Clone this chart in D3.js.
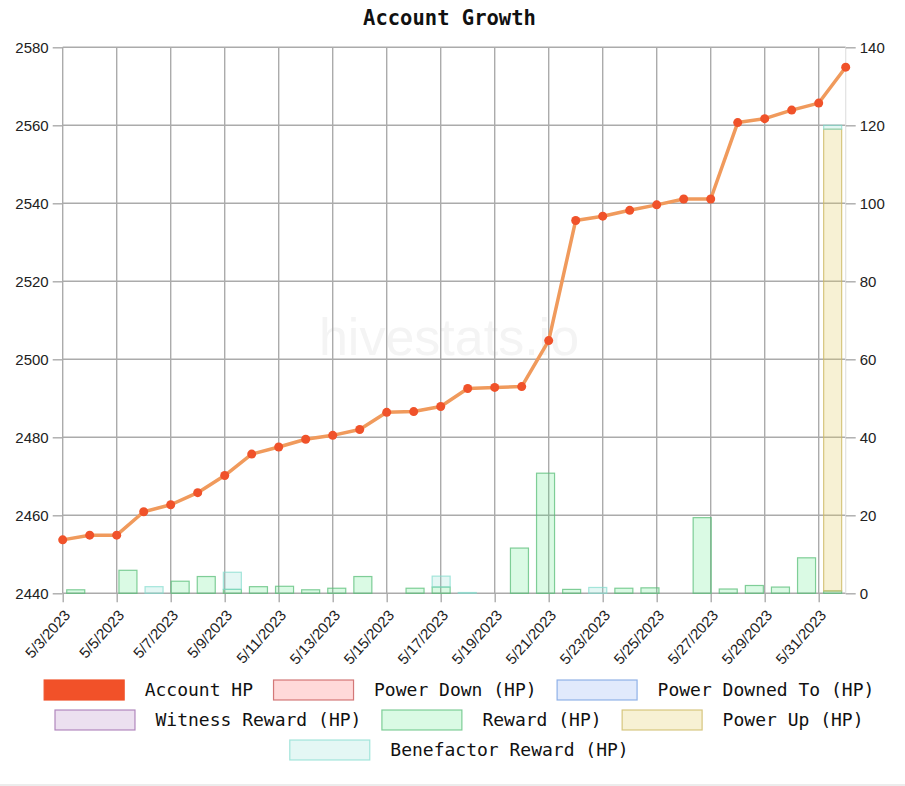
<!DOCTYPE html>
<html>
<head>
<meta charset="utf-8">
<script src="https://cdn.jsdelivr.net/npm/d3@7"></script>
<style>
  body { margin: 0; background: #fff; }
  svg { display: block; }
</style>
</head>
<body>
<div id="chart"></div>
<script>
// days shown on the chart
var dates = ["5/3/2023", "5/4/2023", "5/5/2023", "5/6/2023", "5/7/2023", "5/8/2023", "5/9/2023", "5/10/2023",
    "5/11/2023", "5/12/2023", "5/13/2023", "5/14/2023", "5/15/2023", "5/16/2023", "5/17/2023", "5/18/2023",
    "5/19/2023", "5/20/2023", "5/21/2023", "5/22/2023", "5/23/2023", "5/24/2023", "5/25/2023", "5/26/2023",
    "5/27/2023", "5/28/2023", "5/29/2023", "5/30/2023", "5/31/2023", "6/1/2023"];

var accountHP = [2453.7, 2454.9, 2454.9, 2460.9, 2462.7, 2465.8, 2470.2, 2475.7, 2477.5, 2479.5,
    2480.5, 2482.0, 2486.4, 2486.6, 2487.9, 2492.5, 2492.8, 2493.0, 2504.8, 2535.6,
    2536.7, 2538.2, 2539.6, 2541.1, 2541.1, 2560.7, 2561.7, 2563.9, 2565.7, 2574.9];

var powerDown = [0, 0, 0, 0, 0, 0, 0, 0, 0, 0, 0, 0, 0, 0, 0, 0, 0, 0, 0, 0, 0, 0, 0, 0, 0, 0, 0, 0, 0, 0];
var powerDownedTo = [0, 0, 0, 0, 0, 0, 0, 0, 0, 0, 0, 0, 0, 0, 0, 0, 0, 0, 0, 0, 0, 0, 0, 0, 0, 0, 0, 0, 0, 0];
var witnessReward = [0, 0, 0, 0, 0, 0, 0, 0, 0, 0, 0, 0, 0, 0, 0, 0, 0, 0, 0, 0, 0, 0, 0, 0, 0, 0, 0, 0, 0, 0];
var reward = [0.9, 0, 5.9, 0, 3.1, 4.3, 1.0, 1.7, 1.8, 0.9, 1.3, 4.3, 0, 1.3, 1.6,
    0, 0, 11.6, 30.8, 1.0, 0, 1.3, 1.4, 0, 19.4, 1.1, 2.0, 1.6, 9.1, 0.6];
var powerUp = [0, 0, 0, 0, 0, 0, 0, 0, 0, 0, 0, 0, 0, 0, 0, 0, 0, 0, 0, 0, 0, 0, 0, 0, 0, 0, 0, 0, 0, 118.4];
var benefactorReward = [0, 0, 0, 1.7, 0, 0, 4.4, 0, 0, 0, 0, 0, 0, 0, 2.8,
    0.2, 0, 0, 0, 0, 1.5, 0, 0, 0, 0, 0, 0, 0, 0, 1.0];

var leftTicks = [2440, 2460, 2480, 2500, 2520, 2540, 2560, 2580];
var rightTicks = [0, 20, 40, 60, 80, 100, 120, 140];

var legendRows = [
    ["Account HP", "Power Down (HP)", "Power Downed To (HP)"],
    ["Witness Reward (HP)", "Reward (HP)", "Power Up (HP)"],
    ["Benefactor Reward (HP)"]
];

// bar series, bottom of the stack first
var barSeries = [
    { key: "Power Down (HP)", values: powerDown, fill: "rgba(255,120,120,0.28)", stroke: "rgba(200,90,90,0.8)" },
    { key: "Power Downed To (HP)", values: powerDownedTo, fill: "rgba(120,160,240,0.22)", stroke: "rgba(120,160,225,0.8)" },
    { key: "Witness Reward (HP)", values: witnessReward, fill: "rgba(160,100,180,0.2)", stroke: "rgba(160,110,175,0.8)" },
    { key: "Reward (HP)", values: reward, fill: "rgba(70,230,120,0.2)", stroke: "rgba(90,190,120,0.75)" },
    { key: "Power Up (HP)", values: powerUp, fill: "rgba(225,205,100,0.28)", stroke: "rgba(205,185,100,0.8)" },
    { key: "Benefactor Reward (HP)", values: benefactorReward, fill: "rgba(130,220,205,0.22)", stroke: "rgba(130,220,205,0.7)" }
];

function drawChart() {
    const lineColor = "#f09a5c";
    const pointColor = "#f0522a";
    const hpColor = "#f15129";

    const width = 905, height = 786;
    const plotLeft = 62.7, plotRight = 845.7, plotTop = 47.3, plotBottom = 593.3;

    var svg = d3.select("#chart").append("svg")
        .attr("width", width)
        .attr("height", height);

    svg.append("rect").attr("x", 0).attr("y", 784).attr("width", width).attr("height", 2).attr("fill", "#ececec");

    var xPoint = d3.scalePoint().domain(dates).range([plotLeft, plotRight]);
    var xBand = d3.scaleBand().domain(dates).range([plotLeft, plotRight]).padding(0);
    var yLeft = d3.scaleLinear().domain([2440, 2580]).range([plotBottom, plotTop]);
    var yRight = d3.scaleLinear().domain([0, 140]).range([plotBottom, plotTop]);

    // watermark
    svg.append("text")
        .attr("x", 449).attr("y", 355)
        .attr("text-anchor", "middle")
        .style("font-family", "'Liberation Sans', Arial, sans-serif")
        .style("font-size", "52px")
        .attr("fill", "#f4f4f4")
        .text("hivestats.io");

    // title
    svg.append("text")
        .attr("x", 449.5).attr("y", 24.5)
        .attr("text-anchor", "middle")
        .style("font-family", "'DejaVu Sans Mono', monospace")
        .style("font-weight", "bold")
        .style("font-size", "20.5px")
        .attr("fill", "#111")
        .text("Account Growth");

    var gridColor = "#ababab";
    var everyOther = dates.filter(function(d, i) { return i % 2 == 0 && i < 29; });

    // horizontal grid
    svg.append("g").selectAll("line")
        .data(leftTicks)
        .enter().append("line")
        .attr("x1", plotLeft).attr("x2", plotRight)
        .attr("y1", function(d) { return yLeft(d); })
        .attr("y2", function(d) { return yLeft(d); })
        .attr("stroke", gridColor).attr("stroke-width", 1.4);

    // vertical grid
    svg.append("g").selectAll("line")
        .data(everyOther)
        .enter().append("line")
        .attr("x1", function(d) { return xPoint(d); })
        .attr("x2", function(d) { return xPoint(d); })
        .attr("y1", plotTop).attr("y2", plotBottom)
        .attr("stroke", gridColor).attr("stroke-width", 1.4);

    svg.append("line")
        .attr("x1", plotRight).attr("x2", plotRight).attr("y1", plotTop).attr("y2", plotBottom)
        .attr("stroke", "#e2e2e2").attr("stroke-width", 1.2);

    // axes
    function styleAxis(g) {
        g.select(".domain").remove();
        g.selectAll(".tick line").attr("stroke", gridColor).attr("stroke-width", 1.4);
        g.selectAll(".tick text")
            .attr("fill", "#222")
            .style("font-family", "'Liberation Sans', Arial, sans-serif")
            .style("font-size", "15px");
    }

    svg.append("g")
        .attr("transform", "translate(" + plotLeft + ",0)")
        .call(d3.axisLeft(yLeft).tickValues(leftTicks).tickFormat(d3.format("d")).tickSize(10).tickPadding(4))
        .call(styleAxis);

    svg.append("g")
        .attr("transform", "translate(" + plotRight + ",0)")
        .call(d3.axisRight(yRight).tickValues(rightTicks).tickFormat(d3.format("d")).tickSize(10).tickPadding(4))
        .call(styleAxis);

    var xAxis = svg.append("g")
        .attr("transform", "translate(0," + plotBottom + ")")
        .call(d3.axisBottom(xPoint).tickValues(everyOther).tickSize(9))
        .call(styleAxis);

    xAxis.selectAll(".tick text")
        .attr("text-anchor", "end")
        .attr("y", 0)
        .attr("dy", "0.35em")
        .attr("transform", "translate(4,19) rotate(-48)");

    // stacked bars
    var stackRows = dates.map(function(d, i) {
        var row = { date: d };
        barSeries.forEach(function(s) { row[s.key] = s.values[i]; });
        return row;
    });
    var stacked = d3.stack().keys(barSeries.map(function(s) { return s.key; }))(stackRows);

    var barW = xBand.bandwidth() * 0.69;
    var barOff = (xBand.bandwidth() - barW) / 2;

    stacked.forEach(function(layer, li) {
        var s = barSeries[li];
        svg.append("g").selectAll("rect")
            .data(layer.filter(function(d) { return d[1] - d[0] > 0; }))
            .enter().append("rect")
            .attr("x", function(d) { return xBand(d.data.date) + barOff; })
            .attr("y", function(d) { return yRight(d[1]); })
            .attr("width", barW)
            .attr("height", function(d) { return yRight(d[0]) - yRight(d[1]); })
            .attr("fill", s.fill)
            .attr("stroke", s.stroke)
            .attr("stroke-width", 1.2);
    });

    // account hp line
    var line = d3.line()
        .x(function(d, i) { return xPoint(dates[i]); })
        .y(function(d) { return yLeft(d); });

    svg.append("path")
        .datum(accountHP)
        .attr("d", line)
        .attr("fill", "none")
        .attr("stroke", lineColor)
        .attr("stroke-width", 3.5)
        .attr("stroke-linejoin", "round");

    svg.append("g").selectAll("circle")
        .data(accountHP)
        .enter().append("circle")
        .attr("cx", function(d, i) { return xPoint(dates[i]); })
        .attr("cy", function(d) { return yLeft(d); })
        .attr("r", 4.5)
        .attr("fill", pointColor);

    // legend
    var legendStyle = {};
    legendStyle["Account HP"] = { fill: hpColor, stroke: hpColor };
    barSeries.forEach(function(s) { legendStyle[s.key] = { fill: s.fill, stroke: s.stroke }; });

    var legend = svg.append("g");
    legendRows.forEach(function(row, ri) {
        var cy = 690 + ri * 30;
        var rowG = legend.append("g");
        var x = 0;
        row.forEach(function(name) {
            var st = legendStyle[name];
            rowG.append("rect")
                .attr("x", x + 0.5).attr("y", cy - 10)
                .attr("width", 80).attr("height", 20)
                .attr("fill", st.fill).attr("stroke", st.stroke).attr("stroke-width", 1.2);
            var t = rowG.append("text")
                .attr("x", x + 101).attr("y", cy)
                .attr("dy", "0.35em")
                .style("font-family", "'DejaVu Sans Mono', monospace")
                .style("font-size", "18px")
                .attr("fill", "#111")
                .text(name);
            x += 101 + t.node().getComputedTextLength() + 20;
        });
        var rowW = x - 20;
        rowG.attr("transform", "translate(" + (459 - rowW / 2) + ",0)");
    });
}

drawChart();
</script>
</body>
</html>
